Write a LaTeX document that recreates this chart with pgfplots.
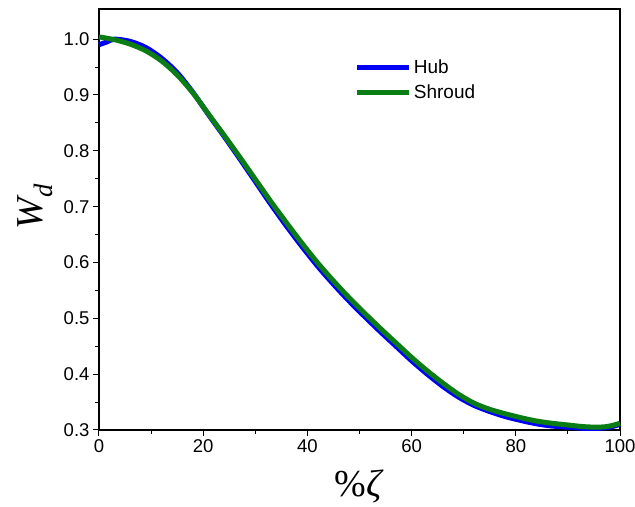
\documentclass[border=0pt]{standalone}
\usepackage{fontspec}
\setmainfont{Liberation Serif}
\newfontfamily\arial{Liberation Sans}
\usepackage{pgfplots}
\pgfplotsset{compat=1.18}
\definecolor{hubblue}{RGB}{0,0,245}
\definecolor{shgreen}{RGB}{10,125,20}
\begin{document}
\begin{tikzpicture}
\begin{axis}[
  scale only axis,
  width=521pt, height=421pt,
  xmin=0, xmax=100, ymin=0.3, ymax=1.054,
  xtick={0,20,...,100},
  minor xtick={10,30,...,90},
  ytick={0.3,0.4,...,1.0},
  minor ytick={0.35,0.45,...,0.95},
  tick align=outside, tick pos=left,
  major tick length=6pt, minor tick length=4pt,
  every tick/.style={black, line width=1pt},
  axis line style={line width=1.2pt},
  /pgf/number format/assume math mode=true,
  yticklabel style={/pgf/number format/fixed, /pgf/number format/fixed zerofill, /pgf/number format/precision=1},
  tick label style={font=\arial\fontsize{18.5}{21}\selectfont},
  xlabel={{\fontsize{38}{42}\selectfont\%\textit{ζ}}},
  ylabel={{\fontsize{38}{42}\selectfont\textit{W\textsubscript{d}}}},
  xlabel style={at={(axis description cs:0.50,-0.135)}, anchor=center},
  ylabel style={at={(axis description cs:-0.123,0.531)}, anchor=center},
  legend style={at={(0.485,0.89)}, anchor=north west, draw=none, fill=none,
    font=\arial\fontsize{19}{22}\selectfont, row sep=6pt},
  legend cell align=left,
  legend image code/.code={\draw[#1, line width=5pt] (0pt,0pt) -- (52pt,0pt);},
  clip=false,
]
\addplot[hubblue, line width=5pt, smooth] coordinates {
(0,0.990) (1.5,0.995) (3,1.000) (6,0.996) (9,0.985) (12,0.966) (15,0.940)
(18,0.905) (21,0.865) (24,0.826) (27,0.786) (30,0.745) (33,0.704) (36,0.665)
(39,0.628) (42,0.593) (45,0.561) (48,0.531) (51,0.503) (54,0.476) (57,0.450)
(60,0.424) (63,0.400) (66,0.378) (69,0.359) (72,0.344) (75,0.333) (78,0.324)
(81,0.317) (84,0.311) (87,0.307) (90,0.305) (93,0.303) (96,0.303) (98,0.305) (100,0.310)
};
\addlegendentry{Hub}
\addplot[shgreen, line width=5pt, smooth] coordinates {
(0,1.004) (3,0.999) (6,0.991) (9,0.979) (12,0.961) (15,0.936) (18,0.904)
(21,0.866) (24,0.828) (27,0.789) (30,0.749) (33,0.709) (36,0.671) (39,0.634)
(42,0.599) (45,0.567) (48,0.537) (51,0.509) (54,0.482) (57,0.456) (60,0.430)
(63,0.406) (66,0.384) (69,0.364) (72,0.348) (75,0.337) (78,0.329) (81,0.322)
(84,0.316) (87,0.312) (90,0.309) (93,0.306) (96,0.305) (98,0.307) (100,0.312)
};
\addlegendentry{Shroud}
\end{axis}
\pgfresetboundingbox
\path ([xshift=-99pt,yshift=-77pt]current axis.south west) rectangle ([xshift=15pt,yshift=9pt]current axis.north east);
\end{tikzpicture}
\end{document}
